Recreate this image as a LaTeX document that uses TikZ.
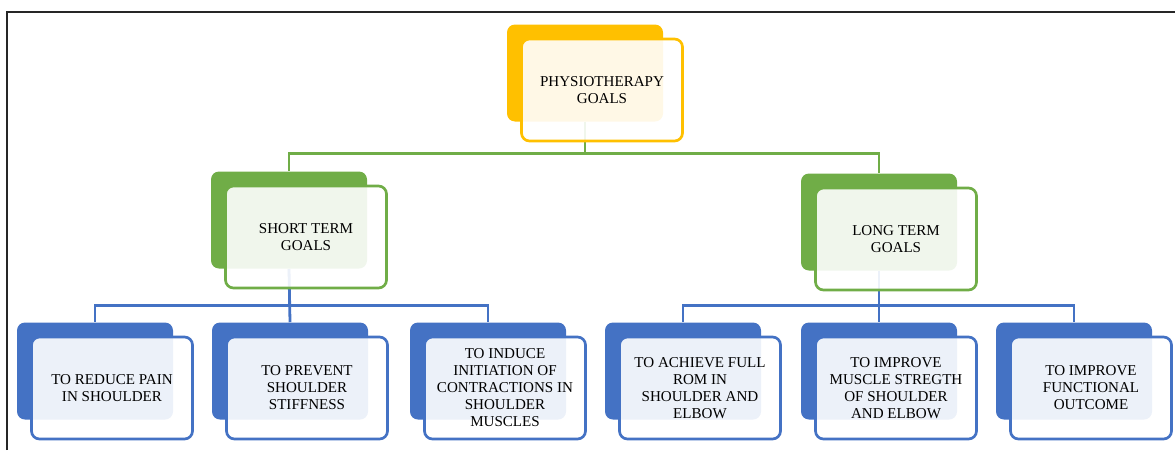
\documentclass[tikz,border=0pt]{standalone}
\usepackage{fontspec}
\setmainfont{Liberation Serif}
\usetikzlibrary{backgrounds}

\definecolor{goalorange}{HTML}{FFC000}
\definecolor{goalgreen}{HTML}{70AD47}
\definecolor{goalblue}{HTML}{4472C4}

\tikzset{
  backbox/.style={rounded corners=6pt,minimum width=117pt,minimum height=72.75pt,fill=#1,draw=none},
  frontbox/.style={rounded corners=6pt,minimum width=120.75pt,minimum height=76.5pt,
    fill=white,fill opacity=0.9,text opacity=1,draw=#1,line width=2pt,
    align=center,inner sep=2pt,font=\fontsize{11.3}{12.75}\selectfont},
  link/.style={draw=#1,line width=2.1pt}
}

\begin{document}
\begin{tikzpicture}[x=0.75pt,y=-0.75pt]
\useasboundingbox (0,0) rectangle (1175,450);
\draw[line width=1.4pt,black!85] (7,450) -- (7,12) -- (1175,12);

% top
\node[backbox=goalorange] (phys-back) at (585,73) {};
\node[frontbox=goalorange] (phys) at (602,90) {PHYSIOTHERAPY\\GOALS};

% second row
\node[backbox=goalgreen] (short-back) at (289,220) {};
\node[frontbox=goalgreen] (short) at (306,237) {SHORT TERM\\GOALS};
\node[backbox=goalgreen] (long-back) at (879,222) {};
\node[frontbox=goalgreen] (long) at (896,239) {LONG TERM\\GOALS};

% third row
\node[backbox=goalblue] (pain-back) at (95,371) {};
\node[frontbox=goalblue] (pain) at (112,388) {TO REDUCE PAIN\\IN SHOULDER};
\node[backbox=goalblue] (stiff-back) at (290,371) {};
\node[frontbox=goalblue] (stiff) at (307,388) {TO PREVENT\\SHOULDER\\STIFFNESS};
\node[backbox=goalblue] (induce-back) at (488,371) {};
\node[frontbox=goalblue] (induce) at (505,388) {TO INDUCE\\INITIATION OF\\CONTRACTIONS IN\\SHOULDER\\MUSCLES};
\node[backbox=goalblue] (rom-back) at (683,371) {};
\node[frontbox=goalblue] (rom) at (700,388) {TO ACHIEVE FULL\\ROM IN\\SHOULDER AND\\ELBOW};
\node[backbox=goalblue] (strength-back) at (879,371) {};
\node[frontbox=goalblue] (strength) at (896,388) {TO IMPROVE\\MUSCLE STREGTH\\OF SHOULDER\\AND ELBOW};
\node[backbox=goalblue] (outcome-back) at (1074,371) {};
\node[frontbox=goalblue] (outcome) at (1091,388) {TO IMPROVE\\FUNCTIONAL\\OUTCOME};

\begin{scope}[on background layer]
\draw[link=goalgreen] (phys-back.south) -- ++(0,32) -| (short-back.north);
\draw[link=goalgreen] (phys-back.south) -- ++(0,32) -| (long-back.north);

\draw[link=goalblue] (short-back.south) -- ++(0,37) -| (pain-back.north);
\draw[link=goalblue] (short-back.south) -- (stiff-back.north);
\draw[link=goalblue] (short-back.south) -- ++(0,37) -| (induce-back.north);

\draw[link=goalblue] (long-back.south) -- ++(0,35) -| (rom-back.north);
\draw[link=goalblue] (long-back.south) -- (strength-back.north);
\draw[link=goalblue] (long-back.south) -- ++(0,35) -| (outcome-back.north);
\end{scope}
\end{tikzpicture}
\end{document}
